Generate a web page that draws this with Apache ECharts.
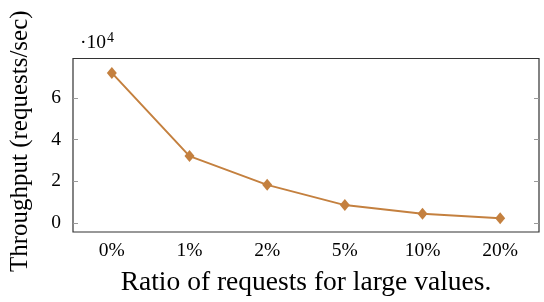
<!DOCTYPE html>
<html>
<head>
<meta charset="utf-8">
<script src="https://cdn.jsdelivr.net/npm/echarts@6/dist/echarts.min.js"></script>
<style>
  html, body { margin: 0; padding: 0; background: #fff; }
  #chart { width: 544px; height: 302px; }
</style>
</head>
<body>
<div id="chart"></div>
<script>
// data
let ratios = ["0%", "1%", "2%", "5%", "10%", "20%"];
let throughput = [72000, 32100, 18300, 8600, 4400, 2350];
let yTicks = [0, 20000, 40000, 60000];

let serif = "Liberation Serif";
let lineColor = "#c4803f";

var myChart = echarts.init(document.getElementById("chart"));
let option = {
    animation: false,
    grid: {
        left: 72,
        right: 5,
        top: 58.5,
        bottom: 66,
        show: true,
        borderColor: "#333",
        borderWidth: 1.2,
    },
    xAxis: [{
        type: "category",
        data: ratios,
        boundaryGap: true,
        axisLine: { show: false },
        axisTick: { inside: true, alignWithLabel: true, length: 5, lineStyle: { color: "#999" } },
        axisLabel: { fontFamily: serif, fontSize: 19.5, color: "#000", margin: 9 },
        name: "Ratio of requests for large values.",
        nameLocation: "middle",
        nameGap: 37,
        nameTextStyle: { fontFamily: serif, fontSize: 27.5, color: "#000" },
    }, {
        type: "category",
        data: ratios,
        position: "top",
        boundaryGap: true,
        axisLine: { show: false },
        axisTick: { inside: true, alignWithLabel: true, length: 5, lineStyle: { color: "#999" } },
        axisLabel: { show: false },
    }],
    yAxis: [{
        type: "value",
        min: -4300,
        max: 78900,
        axisLine: { show: false },
        splitLine: { show: false },
        axisTick: { show: true, inside: true, length: 5, customValues: yTicks, lineStyle: { color: "#999" } },
        axisLabel: {
            fontFamily: serif, fontSize: 19.5, color: "#000", margin: 12,
            customValues: yTicks,
            formatter: function (v) { return String(v / 10000); }
        },
        name: "Throughput (requests/sec)",
        nameLocation: "middle",
        nameGap: 40,
        nameTextStyle: { fontFamily: serif, fontSize: 25, color: "#000", padding: [0, 0, 0, 8] },
    }, {
        type: "value",
        position: "right",
        min: -4300,
        max: 78900,
        axisLine: { show: false },
        splitLine: { show: false },
        axisTick: { show: true, inside: true, length: 5, customValues: yTicks, lineStyle: { color: "#999" } },
        axisLabel: { show: false },
    }],
    graphic: [{
        type: "text",
        left: 80,
        top: 31,
        style: {
            text: "·10{sup|4}",
            fontFamily: serif,
            fontSize: 19.5,
            fill: "#000",
            rich: { sup: { fontFamily: serif, fontSize: 14, verticalAlign: "top", padding: [0, 0, 9, 1] } }
        }
    }],
    series: [{
        type: "line",
        data: throughput,
        color: lineColor,
        symbol: "diamond",
        symbolSize: [10, 12],
        lineStyle: { width: 2, color: lineColor },
        itemStyle: { color: lineColor },
    }]
};
myChart.setOption(option);
</script>
</body>
</html>
